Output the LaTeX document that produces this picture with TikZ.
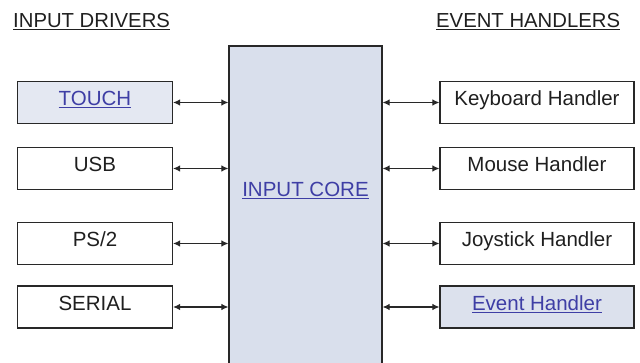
\documentclass[tikz,border=0pt]{standalone}
\usepackage{fontspec}
\setmainfont{Liberation Sans}
\usetikzlibrary{arrows.meta}
\definecolor{linkblue}{RGB}{62,62,165}
\definecolor{lightfill}{RGB}{228,232,242}
\definecolor{corefill}{RGB}{217,223,236}
\definecolor{evfill}{RGB}{220,225,237}
\definecolor{edge}{RGB}{40,40,40}
\tikzset{
  box/.style={draw=edge, line width=1.2pt, minimum height=42pt, inner sep=0pt,
    text height=14pt, text depth=7pt, font=\fontsize{20.5}{24}\selectfont, text=black!88},
  lbox/.style={box, minimum width=155pt},
  rbox/.style={box, minimum width=194pt},
  title/.style={anchor=base west, inner sep=0pt, font=\fontsize{20.3}{24}\selectfont, text=black!88},
  arr/.style={{Latex[length=7pt,width=6.5pt]}-{Latex[length=7pt,width=6.5pt]}, line width=1.1pt, draw=edge}
}
\newcommand{\ul}[1]{\underline{#1}}
\begin{document}
\begin{tikzpicture}[x=1pt,y=-1pt]
\useasboundingbox (0,0) rectangle (640,363);
\clip (0,0) rectangle (640,363);
% titles
\node[title] (tdrv) at (13,28) {\ul{INPUT DRIVERS}};
\node[title] (tevh) at (436,28) {\ul{EVENT HANDLERS}};
% core
\node[draw=edge, line width=1.2pt, fill=corefill, minimum width=153pt, minimum height=340pt, inner sep=0pt] (core) at (305.5,216) {};
\node[font=\fontsize{20.5}{24}\selectfont, text=linkblue, anchor=base, inner sep=0pt] (corelbl) at (305.5,197) {\ul{INPUT CORE}};
% left boxes
\node[lbox, fill=lightfill] (touch) at (95,102.5) {\textcolor{linkblue}{\ul{TOUCH}}};
\node[lbox] (usb) at (95,168.5) {USB};
\node[lbox] (ps2) at (95,243.5) {PS/2};
\node[lbox] (serial) at (95,307) {SERIAL};
% right boxes
\node[rbox] (kbd) at (537,102.5) {Keyboard Handler};
\node[rbox] (mouse) at (537,168.5) {Mouse Handler};
\node[rbox] (joy) at (537,243.5) {Joystick Handler};
\node[rbox, fill=evfill] (evh) at (537,307) {\textcolor{linkblue}{\ul{Event Handler}}};
% connectors
\foreach \n in {touch,usb,ps2,serial}
  \draw[arr] (\n.east) -- (\n.east -| core.west);
\foreach \n in {kbd,mouse,joy,evh}
  \draw[arr] (\n.west -| core.east) -- (\n.west);
\end{tikzpicture}
\end{document}
